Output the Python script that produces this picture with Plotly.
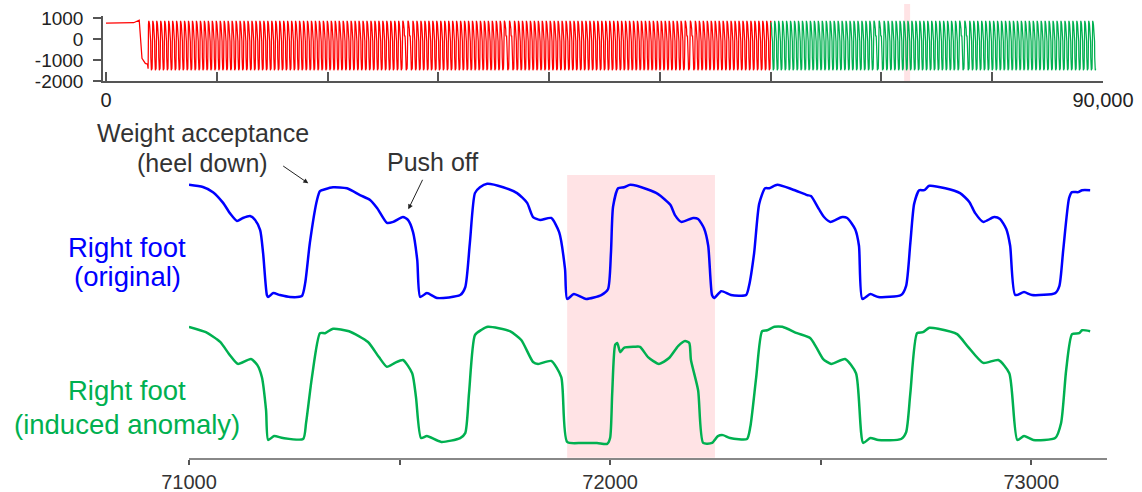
import plotly.graph_objects as go

W, H = 1142, 492
FONT = "Liberation Sans, Arial, sans-serif"

# ---------------- data: zoomed view (samples 71000-73150) ----------------
blue_x = [71000, 71033, 71057, 71081, 71097, 71114, 71128, 71145, 71157, 71169,
          71176, 71185, 71188, 71200, 71216, 71240, 71268, 71276, 71287, 71304,
          71311, 71323, 71342, 71375, 71406, 71430, 71447, 71470, 71485, 71508,
          71520, 71532, 71542, 71549, 71565, 71589, 71644, 71656, 71667, 71679,
          71691, 71708, 71746, 71779, 71803, 71817, 71834, 71860, 71879, 71893,
          71898, 71914, 71943, 71979, 71995, 72002, 72007, 72019, 72033, 72048,
          72088, 72114, 72143, 72154, 72169, 72197, 72209, 72223, 72233, 72242,
          72247, 72264, 72287, 72323, 72330, 72342, 72354, 72368, 72378, 72397,
          72432, 72468, 72477, 72496, 72508, 72523, 72551, 72563, 72582, 72591,
          72599, 72618, 72637, 72691, 72703, 72713, 72722, 72734, 72746, 72758,
          72796, 72831, 72853, 72867, 72886, 72912, 72926, 72941, 72950, 72962,
          72983, 73002, 73057, 73067, 73076, 73090, 73097, 73112, 73121, 73140]
blue_y = [850, 805, 700, 480, 270, 110, 170, 210, 130, -80,
          -550, -1410, -1450, -1370, -1410, -1450, -1430, -1160, -340, 540,
          720, 760, 800, 780, 640, 540, 370, 70, 90, 190,
          130, -120, -690, -1450, -1370, -1470, -1410, -1250, -340, 680,
          800, 870, 800, 680, 480, 190, 130, 170, -120, -880,
          -1490, -1390, -1490, -1410, -1290, -550, 400, 780, 800, 850,
          760, 660, 440, 230, 90, 170, 150, -40, -400, -1410,
          -1470, -1330, -1410, -1410, -1220, -550, 460, 780, 780, 850,
          760, 640, 620, 350, 190, 90, 190, 170, -60, -400,
          -1490, -1390, -1450, -1410, -1220, -340, 460, 740, 740, 830,
          780, 680, 500, 270, 90, 190, 150, -60, -400, -1410,
          -1350, -1410, -1370, -1220, -490, 580, 700, 700, 740, 740]

green_x = [71000, 71040, 71074, 71097, 71116, 71147, 71162, 71173, 71183, 71188,
           71202, 71223, 71271, 71278, 71292, 71311, 71323, 71342, 71380, 71425,
           71451, 71470, 71489, 71508, 71530, 71539, 71551, 71565, 71599, 71644,
           71656, 71665, 71679, 71694, 71710, 71762, 71789, 71817, 71829, 71860,
           71884, 71898, 71933, 71969, 71993, 72000, 72005, 72012, 72017, 72024,
           72033, 72057, 72071, 72090, 72116, 72140, 72162, 72178, 72188, 72192,
           72209, 72221, 72242, 72256, 72268, 72285, 72325, 72333, 72347, 72361,
           72373, 72390, 72409, 72444, 72475, 72489, 72506, 72525, 72558, 72584,
           72601, 72618, 72637, 72691, 72703, 72713, 72729, 72743, 72758, 72779,
           72824, 72850, 72886, 72922, 72948, 72967, 72983, 73005, 73057, 73071,
           73083, 73097, 73114, 73121, 73140]
green_y = [870, 760, 560, 290, 110, 210, 90, -160, -840, -1450,
           -1370, -1410, -1430, -1100, -160, 740, 740, 830, 780, 560,
           250, 50, 130, 190, -80, -570, -1410, -1370, -1490, -1410,
           -1310, -490, 700, 805, 870, 780, 600, 150, 110, 170,
           -160, -1490, -1510, -1510, -1530, -1410, -490, 500, 540, 350,
           440, 460, 460, 250, 110, 230, 480, 580, 540, 190,
           -430, -1510, -1510, -1370, -1350, -1410, -1430, -1180, -160, 780,
           800, 870, 870, 740, 640, 460, 210, 110, 210, -80,
           -1510, -1410, -1450, -1430, -1290, -490, 740, 760, 850, 830,
           720, 460, 130, 190, -80, -1450, -1370, -1450, -1410, -1100,
           -20, 720, 740, 800, 780]

anomaly_x = [71898, 72249]          # shaded anomaly in the zoomed view
overview_mark_x = [72050, 72590]    # shaded mark in the overview

# ---------------- data: overview (samples 0-90000) ----------------
standing_x = [0, 1500, 2500, 3000, 3250, 3550, 3750]
standing_y = [760, 770, 780, 900, -920, -1160, -1200]
cycle_offsets = [0, 12, 23, 35, 47, 64, 102, 135, 159, 173, 190, 216, 235, 249, 254, 270, 299, 335]
cycle_values = [-1410, -1250, -340, 680, 800, 870, 800, 680, 480, 190, 130, 170, -120, -880, -1490, -1390, -1490, -1410]
cycle_length = 358
walk_start, walk_end = 3800, 89700
switch_sample = 60000                # original (red) -> with anomaly (green)
long_cycle_starts = [26820, 36030, 52370, 69440, 77290]

ov_x, ov_y = list(standing_x), list(standing_y)
t = walk_start
while t + cycle_length <= walk_end:
    stretch = 1.3 if any(abs(t - s) < cycle_length for s in long_cycle_starts) else 1.0
    for o, v in zip(cycle_offsets, cycle_values):
        ov_x.append(t + o * stretch)
        ov_y.append(v)
    t += cycle_length * stretch
split = next(i for i, xv in enumerate(ov_x) if xv >= switch_sample)
red_x, red_y = ov_x[:split + 1], ov_y[:split + 1]
grn_x, grn_y = ov_x[split:], ov_y[split:]

top_ticks = list(range(0, 90001, 10000))
top_ticktext = ["0"] + [""] * 8 + ["90,000"]
top_yticks = [-2000, -1000, 0, 1000]
top_yticktext = ["-2000", "-1000", "0", "1000"]
bot_ticks = [71000, 71500, 72000, 72500, 73000]
bot_ticktext = ["71000", "", "72000", "", "73000"]

RED, GREEN, BLUE = "#FF0000", "#00B050", "#0000FF"
PINK = "rgb(255,227,229)"


def pxx(x):
    return x / W


def pxy(y):
    return 1 - y / H


fig = go.Figure()
fig.add_trace(go.Scatter(x=red_x, y=red_y, mode="lines", line=dict(color=RED, width=1.25),
                         xaxis="x", yaxis="y", hoverinfo="skip"))
fig.add_trace(go.Scatter(x=grn_x, y=grn_y, mode="lines", line=dict(color=GREEN, width=1.25),
                         xaxis="x", yaxis="y", hoverinfo="skip"))
fig.add_trace(go.Scatter(x=blue_x, y=blue_y, mode="lines", line=dict(color=BLUE, width=2.5, shape="spline", smoothing=0.6),
                         xaxis="x2", yaxis="y2"))
fig.add_trace(go.Scatter(x=green_x, y=green_y, mode="lines", line=dict(color=GREEN, width=2.5, shape="spline", smoothing=0.6),
                         xaxis="x2", yaxis="y3"))

fig.update_layout(
    template="none",
    width=W, height=H, margin=dict(l=0, r=0, t=0, b=0, pad=0), autosize=False,
    paper_bgcolor="white", plot_bgcolor="rgba(0,0,0,0)", showlegend=False,
    font=dict(family=FONT, color="#222"),
    xaxis=dict(domain=[pxx(103), pxx(1103)], range=[-270, 90000], anchor="y", automargin=False,
               showline=True, linecolor="#555", linewidth=1.5, mirror=False,
               ticks="inside", ticklen=9, tickwidth=1.5, tickcolor="#555",
               tickvals=top_ticks, ticktext=top_ticktext, tickfont=dict(size=20, color="#222"),
               showgrid=False, zeroline=False),
    yaxis=dict(domain=[pxy(81), pxy(16)], range=[-2000, 1100], anchor="x", automargin=False,
               showline=True, linecolor="#555", linewidth=1.5,
               ticks="outside", ticklen=8, tickwidth=1.5, tickcolor="#555", ticklabelstandoff=6,
               tickvals=top_yticks, ticktext=top_yticktext, tickfont=dict(size=19, color="#222"),
               showgrid=False, zeroline=False),
    xaxis2=dict(domain=[pxx(189), pxx(1107)], range=[71000, 73180], anchor="y3", automargin=False,
                showline=True, linecolor="#888", linewidth=2,
                ticks="outside", ticklen=5, tickwidth=1.5, tickcolor="#555",
                tickvals=bot_ticks, ticktext=bot_ticktext, tickfont=dict(size=20, color="#333"),
                showgrid=False, zeroline=False),
    yaxis2=dict(domain=[pxy(305), pxy(170)], range=[-1614, 1154], anchor="x2", visible=False, automargin=False),
    yaxis3=dict(domain=[pxy(457.7), pxy(310)], range=[-1813, 1215], anchor="x2", visible=False, automargin=False),
)

fig.add_shape(type="rect", xref="x2", yref="paper", x0=anomaly_x[0], x1=anomaly_x[1],
              y0=pxy(457.7), y1=pxy(175), fillcolor=PINK, line=dict(width=0), layer="below")
fig.add_shape(type="rect", xref="x", yref="paper", x0=overview_mark_x[0], x1=overview_mark_x[1],
              y0=pxy(81), y1=pxy(4), fillcolor=PINK, line=dict(width=0), layer="below")

texts = [
    ("Weight acceptance", 202.5, 133.4, 25, "#333"),
    ("(heel down)", 202.5, 163.4, 25, "#333"),
    ("Push off", 432.5, 161.7, 25, "#333"),
    ("Right foot", 127, 247.3, 27.5, BLUE),
    ("(original)", 127.5, 276.5, 27.5, BLUE),
    ("Right foot", 127, 390.6, 27.5, GREEN),
    ("(induced anomaly)", 127, 424, 27.5, GREEN),
]
for txt, x, y, size, col in texts:
    fig.add_annotation(text=txt, x=pxx(x), y=pxy(y), xref="paper", yref="paper",
                       xanchor="center", yanchor="middle", showarrow=False,
                       font=dict(size=size, color=col, family=FONT))

arrows = [((308.3, 183.3), (281.7, 165.0)), ((408.3, 209.3), (423.3, 178.3))]
for (hx, hy), (tx, ty) in arrows:
    fig.add_annotation(text="", x=pxx(hx), y=pxy(hy), xref="paper", yref="paper",
                       ax=tx - hx, ay=ty - hy, axref="pixel", ayref="pixel",
                       showarrow=True, arrowhead=2, arrowsize=1, arrowwidth=1, arrowcolor="#222",
                       standoff=0, startstandoff=0)

fig.write_html("out.html")
